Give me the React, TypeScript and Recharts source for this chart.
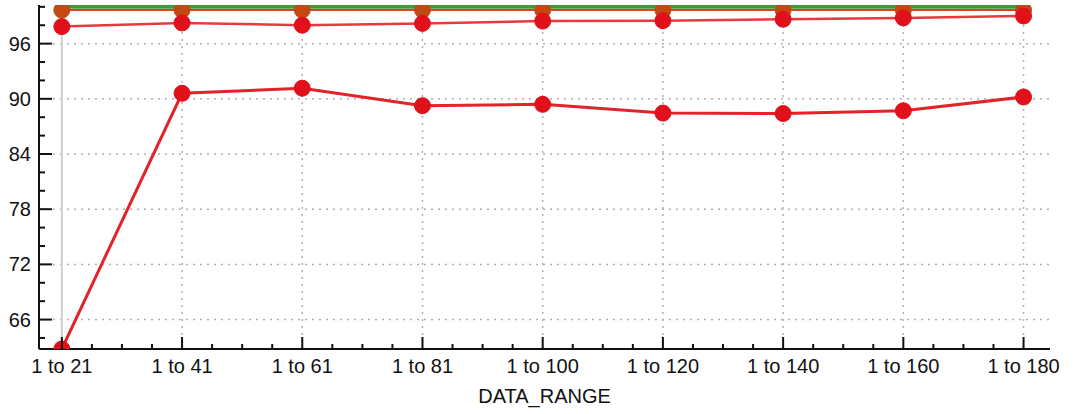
import React from 'react';
import { LineChart, Line, XAxis, YAxis, ReferenceLine, Label } from 'recharts';

const categories = ['1 to 21', '1 to 41', '1 to 61', '1 to 81', '1 to 100', '1 to 120', '1 to 140', '1 to 160', '1 to 180'];
const lowSeries = [62.8, 90.6, 91.15, 89.25, 89.4, 88.45, 88.4, 88.7, 90.2];
const midSeries = [97.85, 98.25, 98.0, 98.2, 98.45, 98.5, 98.65, 98.8, 99.0];
const orangeSeries = [99.65, 99.65, 99.65, 99.65, 99.65, 99.65, 99.65, 99.65, 99.65];
const greenSeries = [100, 100, 100, 100, 100, 100, 100, 100, 100];

const yMajor = [66, 72, 78, 84, 90, 96];
const yTicks = [64, 66, 68, 70, 72, 74, 76, 78, 80, 82, 84, 86, 88, 90, 92, 94, 96, 98, 100];
const xTicks = [0, 0.25, 0.5, 0.75, 1, 1.25, 1.5, 1.75, 2, 2.25, 2.5, 2.75, 3, 3.25, 3.5, 3.75, 4, 4.25, 4.5, 4.75, 5, 5.25, 5.5, 5.75, 6, 6.25, 6.5, 6.75, 7, 7.25, 7.5, 7.75, 8];

const data = categories.map((c, i) => ({
  idx: i,
  name: c,
  low: lowSeries[i],
  mid: midSeries[i],
  orange: orangeSeries[i],
  green: greenSeries[i],
}));

const FONT = '"Liberation Sans", Arial, Helvetica, sans-serif';

function YTick(props: any) {
  const { x, y, payload } = props;
  const major = yMajor.includes(payload.value);
  return (
    <g>
      <line x1={x} x2={x + (major ? 13 : 6)} y1={y} y2={y} stroke="#111" strokeWidth={2} />
      {major && (
        <text x={x - 8} y={y + 7} textAnchor="end" fontSize={20} fontFamily={FONT} fill="#111">
          {payload.value}
        </text>
      )}
    </g>
  );
}

function XTick(props: any) {
  const { x, y, payload } = props;
  const major = Number.isInteger(payload.value);
  return (
    <g>
      <line x1={x} x2={x} y1={y} y2={y - (major ? 12 : 5)} stroke="#111" strokeWidth={2} />
      {major && (
        <text x={x} y={y + 24} textAnchor="middle" fontSize={20} fontFamily={FONT} fill="#111">
          {categories[payload.value]}
        </text>
      )}
    </g>
  );
}

export default function App() {
  return (
    <div style={{ position: 'fixed', left: 0, top: 0, width: 1074, height: 414, background: '#fff' }}>
      <LineChart width={1074} height={414} data={data} margin={{ top: 5, right: 24, left: 0, bottom: 0 }}>
        <XAxis
          dataKey="idx"
          type="number"
          domain={[-0.19, 8.22]}
          ticks={xTicks}
          interval={0}
          tickSize={0}
          tickMargin={0}
          tick={<XTick />}
          height={65}
          axisLine={{ stroke: '#111', strokeWidth: 2 }}
          allowDataOverflow
        >
          <Label value="DATA_RANGE" position="insideBottom" offset={11} style={{ fontSize: 20, fontFamily: FONT, fill: '#111' }} />
        </XAxis>
        <YAxis
          type="number"
          domain={[62.8, 100.2]}
          ticks={yTicks}
          interval={0}
          tickSize={0}
          tickMargin={0}
          tick={<YTick />}
          width={39}
          axisLine={{ stroke: '#111', strokeWidth: 2 }}
          allowDataOverflow
        />
        {yMajor.map((v) => (
          <ReferenceLine key={'h' + v} y={v} stroke="#b0b0b0" strokeWidth={1.5} strokeDasharray="2 5" />
        ))}
        {categories.map((c, i) =>
          i === 0 ? (
            <ReferenceLine key={'v' + i} x={i} stroke="#cfcfcf" strokeWidth={2} />
          ) : (
            <ReferenceLine key={'v' + i} x={i} stroke="#b0b0b0" strokeWidth={1.5} strokeDasharray="2 5" />
          )
        )}
        <Line dataKey="green" stroke="#3e9c35" strokeWidth={4} dot={false} isAnimationActive={false} />
        <Line
          dataKey="orange"
          stroke="#e0401c"
          strokeWidth={2}
          dot={{ r: 8, fill: '#c24a12', stroke: '#c24a12', strokeWidth: 1 }}
          isAnimationActive={false}
        />
        <Line
          dataKey="mid"
          stroke="#e83a3e"
          strokeWidth={2.5}
          dot={{ r: 8, fill: '#e0111a', stroke: '#e0111a', strokeWidth: 1 }}
          isAnimationActive={false}
        />
        <Line
          dataKey="low"
          stroke="#e4222a"
          strokeWidth={3}
          dot={{ r: 8, fill: '#e0111a', stroke: '#e0111a', strokeWidth: 1 }}
          isAnimationActive={false}
        />
      </LineChart>
    </div>
  );
}
